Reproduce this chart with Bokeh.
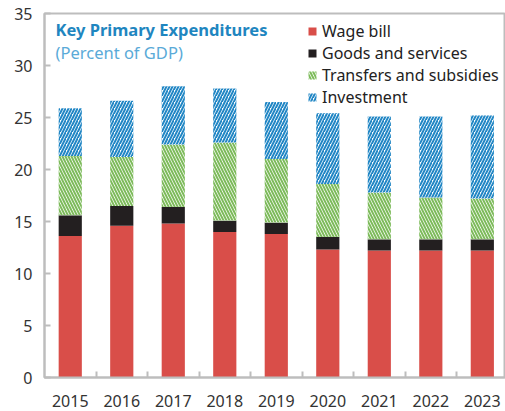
import numpy as np
from bokeh.plotting import figure
from bokeh.models import ColumnDataSource, Range1d, FixedTicker, Legend, LegendItem, Label
from bokeh.embed import file_html
from bokeh.resources import INLINE

years = ["2015", "2016", "2017", "2018", "2019", "2020", "2021", "2022", "2023"]
wage_bill = [13.6, 14.6, 14.8, 14.0, 13.8, 12.3, 12.2, 12.2, 12.2]
goods_services = [2.0, 1.9, 1.6, 1.1, 1.1, 1.2, 1.1, 1.1, 1.1]
transfers_subsidies = [5.7, 4.7, 6.0, 7.5, 6.1, 5.1, 4.5, 4.0, 3.9]
investment = [4.6, 5.4, 5.6, 5.2, 5.5, 6.8, 7.3, 7.8, 8.0]
y_ticks = [0, 5, 10, 15, 20, 25, 30, 35]

FONT = "Noto Sans"
RED = "#D94E49"
BLACK = "#231F20"
GREEN = "#7DBB5B"
BLUE = "#2287C5"
GRID = "#BDBDBD"

x = np.arange(len(years)) + 0.5
s1 = np.array(wage_bill)
s2 = s1 + np.array(goods_services)
s3 = s2 + np.array(transfers_subsidies)
s4 = s3 + np.array(investment)

src = ColumnDataSource(dict(x=x, z=np.zeros(len(x)), s1=s1, s2=s2, s3=s3, s4=s4))

p = figure(width=505, height=411, output_backend="svg", toolbar_location=None,
           x_range=Range1d(0, 8.95), y_range=Range1d(0, 35),
           min_border_left=44, min_border_right=0, min_border_top=13, min_border_bottom=34)
p.xgrid.visible = False
p.ygrid.visible = False
p.outline_line_color = GRID
p.outline_line_width = 2
p.background_fill_color = "white"
p.border_fill_color = "white"

W = 0.45
r1 = p.vbar(x="x", bottom="z", top="s1", width=W, source=src, fill_color=RED, line_color=None)
r2 = p.vbar(x="x", bottom="s1", top="s2", width=W, source=src, fill_color=BLACK, line_color=None)
r3 = p.vbar(x="x", bottom="s2", top="s3", width=W, source=src, fill_color="white", line_color=None,
            hatch_pattern="\\", hatch_color=GREEN, hatch_scale=6, hatch_weight=2.0)
r4 = p.vbar(x="x", bottom="s3", top="s4", width=W, source=src, fill_color="white", line_color=None,
            hatch_pattern="/", hatch_color=BLUE, hatch_scale=6, hatch_weight=2.0)

# axes
p.xaxis.ticker = FixedTicker(ticks=list(x), minor_ticks=list(np.arange(1, len(years))))
p.xaxis.major_label_overrides = {float(xx): yy for xx, yy in zip(x, years)}
p.xaxis.major_tick_line_color = None
p.xaxis.minor_tick_in = 6
p.xaxis.minor_tick_out = 0
p.xaxis.minor_tick_line_color = GRID
p.xaxis.minor_tick_line_width = 2
p.xaxis.axis_line_color = GRID
p.xaxis.axis_line_width = 2
p.xaxis.major_label_standoff = 11
p.xaxis.major_label_text_font = FONT
p.xaxis.major_label_text_font_size = "16px"
p.xaxis.major_label_text_color = "#333333"

p.yaxis.ticker = FixedTicker(ticks=y_ticks)
p.yaxis.minor_tick_line_color = None
p.yaxis.major_tick_in = 6
p.yaxis.major_tick_out = 0
p.yaxis.major_tick_line_color = GRID
p.yaxis.major_tick_line_width = 2
p.yaxis.axis_line_color = GRID
p.yaxis.axis_line_width = 2
p.yaxis.major_label_standoff = 12
p.yaxis.major_label_text_font = FONT
p.yaxis.major_label_text_font_size = "16px"
p.yaxis.major_label_text_color = "#333333"

legend = Legend(items=[
    LegendItem(label="Wage bill", renderers=[r1]),
    LegendItem(label="Goods and services", renderers=[r2]),
    LegendItem(label="Transfers and subsidies", renderers=[r3]),
    LegendItem(label="Investment", renderers=[r4]),
], location=(263, 269), glyph_width=10, glyph_height=10, label_standoff=5,
    label_height=22, spacing=0, padding=0, margin=0,
    border_line_alpha=0, background_fill_alpha=0,
    label_text_font=FONT, label_text_font_size="16px", label_text_color="#222222")
p.add_layout(legend, "center")

p.add_layout(Label(x=11, y=348, x_units="screen", y_units="screen", text="Key Primary Expenditures",
                   text_font=FONT, text_font_size="16.5px", text_font_style="bold",
                   text_color="#1F86C0", text_baseline="middle"))
p.add_layout(Label(x=11, y=325, x_units="screen", y_units="screen", text="(Percent of GDP)",
                   text_font=FONT, text_font_size="16.5px",
                   text_color="#5AAAD8", text_baseline="middle"))

open("out.html", "w").write(file_html(p, INLINE))
